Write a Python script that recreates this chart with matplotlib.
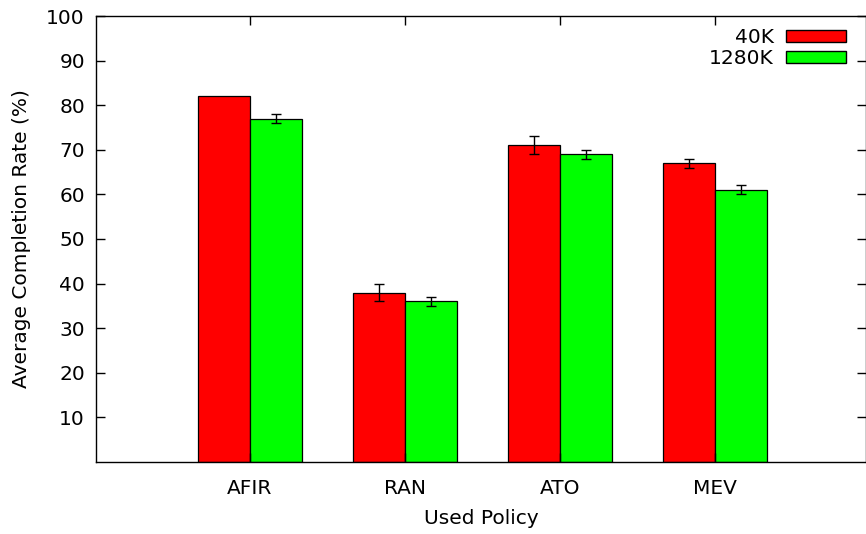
import numpy as np
import matplotlib
matplotlib.use("Agg")
import matplotlib.pyplot as plt
from matplotlib.patches import Patch

policies = ["AFIR", "RAN", "ATO", "MEV"]
rate_40k = [82, 38, 71, 67]
err_40k = [0, 2, 2, 1]
rate_1280k = [77, 36, 69, 61]
err_1280k = [1, 1, 1, 1]

plt.rcParams["font.family"] = "DejaVu Sans"
plt.rcParams["font.size"] = 14.5

fig = plt.figure(figsize=(8.66, 5.34), dpi=100)
ax = fig.add_axes([96 / 866, 72 / 534, 770 / 866, 446 / 534])

x = np.arange(len(policies))
w = 0.335
for off, vals, errs, col in [(-w / 2, rate_40k, err_40k, "#ff0000"),
                             (w / 2, rate_1280k, err_1280k, "#00ff00")]:
    ax.bar(x + off, vals, w, color=col, edgecolor="black", linewidth=0.9)
    # only draw error bars where there is an error
    m = np.array(errs) > 0
    ax.errorbar((x + off)[m], np.array(vals)[m], yerr=np.array(errs)[m], fmt="none",
                ecolor="black", elinewidth=1, capthick=1, capsize=3.5)

ax.set_xlim(-0.99, 3.97)
ax.set_ylim(0, 100)
ax.set_xticks(x)
ax.set_xticklabels(policies)
ax.set_yticks(np.arange(10, 101, 10))
ax.tick_params(direction="in", top=True, right=True, length=6.5, width=1, pad=8)
ax.tick_params(axis="x", pad=12)
for s in ax.spines.values():
    s.set_linewidth(1)

ax.set_xlabel("Used Policy", labelpad=8)
ax.set_ylabel("Average Completion Rate (%)", labelpad=11)

handles = [Patch(facecolor="#ff0000", edgecolor="black", label="40K"),
           Patch(facecolor="#00ff00", edgecolor="black", label="1280K")]
ax.legend(handles=handles, loc="upper right", frameon=False, markerfirst=False,
          handlelength=3.0, handleheight=0.6, handletextpad=0.6,
          labelspacing=0.1, borderaxespad=0.2, bbox_to_anchor=(0.99, 1.0))

fig.savefig("out.png", dpi=100)
